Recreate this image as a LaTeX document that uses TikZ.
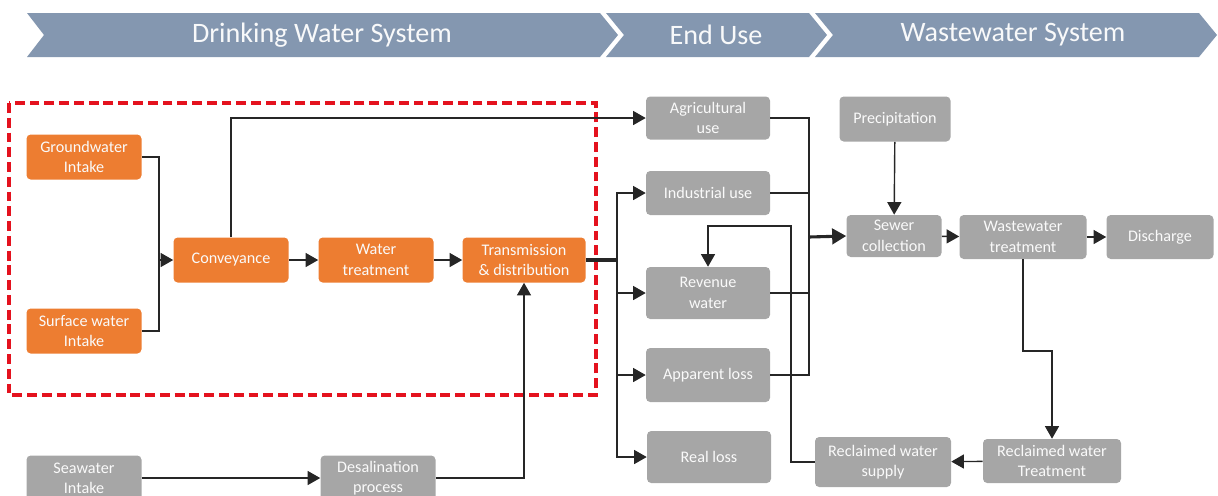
\documentclass[tikz,border=0pt]{standalone}
\usepackage{fontspec}
\setmainfont{Carlito}
\usetikzlibrary{arrows.meta}

\definecolor{hdr}{RGB}{132,151,176}
\definecolor{orng}{RGB}{237,125,49}
\definecolor{boxgray}{RGB}{166,166,166}
\definecolor{dashred}{RGB}{228,18,30}

\tikzset{
  blk/.style 2 args={rounded corners=3pt, inner sep=0pt, align=center,
    text=white!96!gray, font=\fontsize{11.5}{14.5}\selectfont,
    minimum width=#1*0.025cm, minimum height=#2*0.025cm},
  orn/.style 2 args={blk={#1}{#2}, fill=orng},
  gry/.style 2 args={blk={#1}{#2}, fill=boxgray},
  ln/.style={line width=1pt, draw=black!85},
  arr/.style={ln, -{Triangle[length=9pt,width=10pt]}},
  fat/.style={line width=2.2pt},
  hdrtxt/.style={text=white!94!hdr, font=\fontsize{20}{24}\selectfont}
}

\begin{document}
\begin{tikzpicture}[x=0.025cm,y=-0.025cm]
   \useasboundingbox (0,0) rectangle (1218,495);
   \clip (0,0) rectangle (1218,495);

   % header band
   \fill[hdr] (27,13) -- (600,13) -- (618,35) -- (600,57) -- (27,57) -- (44,35) -- cycle;
   \fill[hdr] (606,13) -- (809,13) -- (827,35) -- (809,57) -- (606,57) -- (624,35) -- cycle;
   \fill[hdr] (815,13) -- (1199,13) -- (1217,35) -- (1199,57) -- (815,57) -- (833,35) -- cycle;
   \node[hdrtxt] (h1) at (322,35) {Drinking Water System};
   \node[hdrtxt] (h2) at (716,35) {End Use};
   \node[hdrtxt] (h3) at (1013,35) {Wastewater System};

   \draw[dashred, line width=2.2pt, dash pattern=on 7pt off 3.5pt] (9,103) rectangle (596,395);

   % drinking water
   \node[orn={115}{45}] (gw) at (84,157) {Groundwater\\Intake};
   \node[orn={115}{45}] (sw) at (84,331) {Surface water\\Intake};
   \node[orn={115}{45}] (conv) at (231,260) {Conveyance};
   \node[orn={115}{45}] (wt) at (376,260) {Water\\treatment};
   \node[orn={123}{45}] (td) at (524,260) {Transmission\\\& distribution};
   \node[gry={115}{45}] (sea) at (84,478) {Seawater\\Intake};
   \node[gry={115}{45}] (des) at (378,478) {Desalination\\process};

   % end use
   \node[gry={124}{43}] (agr) at (708,118) {Agricultural\\use};
   \node[gry={124}{44}] (ind) at (708,193) {Industrial use};
   \node[gry={124}{52}] (rev) at (708,293) {Revenue\\water};
   \node[gry={124}{54}] (app) at (708,375) {Apparent loss};
   \node[gry={124}{52}] (real) at (709,457) {Real loss};

   % wastewater
   \node[gry={111}{45}] (prec) at (895,119) {Precipitation};
   \node[gry={95}{42}] (sew) at (894,236) {Sewer\\collection};
   \node[gry={127}{44}] (wwt) at (1023,237) {Wastewater\\treatment};
   \node[gry={107}{44}] (dis) at (1160,237) {Discharge};
   \node[gry={138}{44}] (rwt) at (1052,461) {Reclaimed water\\Treatment};
   \node[gry={136}{50}] (rws) at (883,462) {Reclaimed water\\supply};

   \coordinate (m1) at (159,260);
   \coordinate (bus) at (617,260);
   \coordinate (col) at (809,237);
   \coordinate (k1) at (1052,351);
   \coordinate (k2) at (791,226);

   \draw[ln] (gw.east) -| (m1);
   \draw[ln] (sw.east) -| (m1);
   \draw[arr] (m1) -- (conv.west);
   \draw[arr] (conv.north) |- (agr.west);
   \draw[arr] (conv) -- (wt);
   \draw[arr] (wt) -- (td);
   \draw[arr] (sea) -- (des);
   \draw[arr] (des.east) -| (td.south);

   \draw[ln,fat] (td.east) -- (bus);
   \draw[arr] (bus) |- (ind.west);
   \draw[arr] (bus) |- (rev.west);
   \draw[arr] (bus) |- (app.west);
   \draw[arr] (bus) |- (real.west);

   \draw[ln] (agr.east) -| (col);
   \draw[ln] (ind.east) -| (col);
   \draw[ln] (rev.east) -| (col);
   \draw[ln] (app.east) -| (col);
   \draw[ln,fat,-{Triangle[length=10pt,width=11pt]}] (col) -- (sew.west);

   \draw[arr] (prec) -- (sew);
   \draw[arr] (sew) -- (wwt);
   \draw[arr] (wwt) -- (dis);
   \draw[arr] (wwt.south) |- (k1) -- (rwt.north);
   \draw[arr] (rwt) -- (rws);
   \draw[arr] (rws.west) -| (k2) -| (rev.north);
\end{tikzpicture}
\end{document}
